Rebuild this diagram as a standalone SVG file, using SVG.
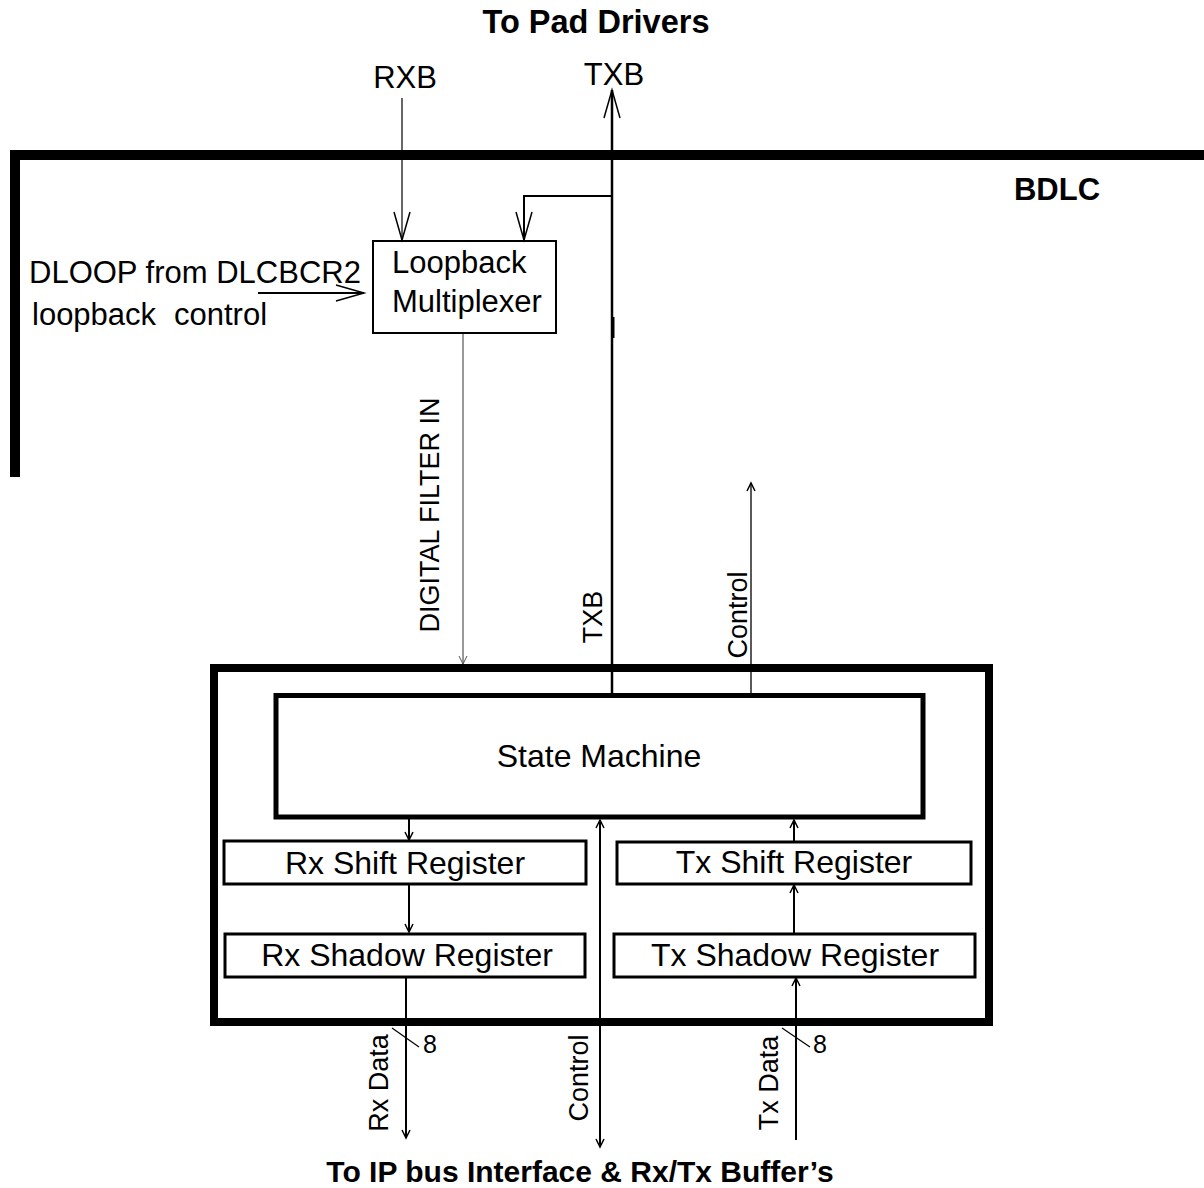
<svg xmlns="http://www.w3.org/2000/svg" width="1204" height="1188" viewBox="0 0 1204 1188">
<style>
  .t { font-family: "Liberation Sans", Arial, sans-serif; font-size: 32px; fill: #000; }
  .t31 { font-family: "Liberation Sans", Arial, sans-serif; font-size: 31px; fill: #000; }
  .b { font-family: "Liberation Sans", Arial, sans-serif; font-size: 30px; font-weight: bold; fill: #000; }
  .b33 { font-family: "Liberation Sans", Arial, sans-serif; font-size: 32.5px; font-weight: bold; fill: #000; }
  .b31 { font-family: "Liberation Sans", Arial, sans-serif; font-size: 31px; font-weight: bold; fill: #000; }
  .r { font-family: "Liberation Sans", Arial, sans-serif; font-size: 27px; fill: #000; }
  .n { font-family: "Liberation Sans", Arial, sans-serif; font-size: 25px; fill: #000; }
  .box { fill: #fff; stroke: #000; }
  .w { fill: none; stroke: #000; }
</style>
<defs>
  <marker id="big" markerUnits="userSpaceOnUse" viewBox="-30 -10 32 20" refX="0" refY="0" markerWidth="32" markerHeight="20" orient="auto" overflow="visible">
    <path d="M-28,-8 L0,0 L-28,8" fill="none" stroke="#000" stroke-width="1.5"/>
  </marker>
  <marker id="sm" markerUnits="userSpaceOnUse" viewBox="-10 -6 12 12" refX="0" refY="0" markerWidth="12" markerHeight="12" orient="auto" overflow="visible">
    <path d="M-8,-4 L0,0 L-8,4" fill="none" stroke="#000" stroke-width="1.5"/>
  </marker>
  <marker id="smg" markerUnits="userSpaceOnUse" viewBox="-10 -6 12 12" refX="0" refY="0" markerWidth="12" markerHeight="12" orient="auto" overflow="visible">
    <path d="M-8,-4 L0,0 L-8,4" fill="none" stroke="#555" stroke-width="1"/>
  </marker>
  <marker id="sms" markerUnits="userSpaceOnUse" viewBox="-10 -6 12 12" refX="0" refY="0" markerWidth="12" markerHeight="12" orient="auto-start-reverse" overflow="visible">
    <path d="M-8,-4 L0,0 L-8,4" fill="none" stroke="#000" stroke-width="1.5"/>
  </marker>
</defs>
<rect width="1204" height="1188" fill="#fff"/>

<g id="bdlc-boundary">
  <path d="M15,477 V155 H1204" class="w" stroke-width="10"/>
  <text class="b31" x="1057" y="200" text-anchor="middle">BDLC</text>
</g>

<g id="titles">
  <text class="b33" x="596" y="33" text-anchor="middle">To Pad Drivers</text>
  <text class="b" x="580" y="1182" text-anchor="middle">To IP bus Interface &amp; Rx/Tx Buffer’s</text>
</g>

<g id="outer-box">
  <rect x="214" y="668" width="775" height="354" class="w" stroke-width="8"/>
</g>

<g id="loopback-mux">
  <rect x="373" y="241" width="183" height="92" class="box" stroke-width="2"/>
  <text class="t31" x="392" y="273">Loopback</text>
  <text class="t31" x="392" y="312">Multiplexer</text>
</g>

<g id="state-machine">
  <rect x="276" y="695.5" width="647" height="121.5" class="box" stroke-width="5"/>
  <text class="t" x="599" y="767" text-anchor="middle">State Machine</text>
</g>

<g id="rx-shift">
  <rect x="224" y="841" width="362" height="43" class="box" stroke-width="3"/>
  <text class="t" x="405" y="874" text-anchor="middle">Rx Shift Register</text>
</g>

<g id="rx-shadow">
  <rect x="225" y="934" width="360" height="43" class="box" stroke-width="3"/>
  <text class="t" x="407" y="966" text-anchor="middle">Rx Shadow Register</text>
</g>

<g id="tx-shift">
  <rect x="617" y="842" width="354" height="42" class="box" stroke-width="3"/>
  <text class="t" x="794" y="873" text-anchor="middle">Tx Shift Register</text>
</g>

<g id="tx-shadow">
  <rect x="614" y="934" width="361" height="43" class="box" stroke-width="3"/>
  <text class="t" x="795" y="966" text-anchor="middle">Tx Shadow Register</text>
</g>

<g id="connectors">
  <line x1="402" y1="98" x2="402" y2="240" class="w" stroke-width="1.2" marker-end="url(#big)"/>
  <line x1="612" y1="696" x2="612" y2="90" class="w" stroke-width="2.5" marker-end="url(#big)"/>
  <line x1="613" y1="317" x2="613" y2="338" class="w" stroke-width="3"/>
  <path d="M612,196 H524 V240" class="w" stroke-width="2" marker-end="url(#big)"/>
  <line x1="258" y1="293" x2="364" y2="293" class="w" stroke-width="2" marker-end="url(#big)"/>
  <line x1="463" y1="334" x2="463" y2="664" fill="none" stroke="#333" stroke-width="1" marker-end="url(#smg)"/>
  <line x1="751" y1="694" x2="751" y2="483" class="w" stroke-width="1.3" marker-end="url(#sm)"/>
  <line x1="409" y1="819" x2="409" y2="840" class="w" stroke-width="2" marker-end="url(#sm)"/>
  <line x1="409" y1="885" x2="409" y2="932" class="w" stroke-width="2" marker-end="url(#sm)"/>
  <line x1="406" y1="978" x2="406" y2="1138" class="w" stroke-width="2" marker-end="url(#sm)"/>
  <line x1="600" y1="820" x2="600" y2="1147" class="w" stroke-width="2" marker-start="url(#sms)" marker-end="url(#sms)"/>
  <line x1="794" y1="933" x2="794" y2="885" class="w" stroke-width="2" marker-end="url(#sm)"/>
  <line x1="794" y1="841" x2="794" y2="820" class="w" stroke-width="2" marker-end="url(#sm)"/>
  <line x1="796" y1="1140" x2="796" y2="978" class="w" stroke-width="2" marker-end="url(#sm)"/>
  <line x1="392" y1="1028" x2="419" y2="1047" class="w" stroke-width="1.2"/>
  <line x1="782" y1="1028" x2="810" y2="1047" class="w" stroke-width="1.2"/>
</g>

<g id="labels">
  <text class="t31" x="405" y="88" text-anchor="middle">RXB</text>
  <text class="t31" x="614" y="85" text-anchor="middle">TXB</text>
  <text class="t31" x="29" y="283">DLOOP from DLCBCR2</text>
  <text class="t31" x="32" y="325">loopback</text>
  <text class="t31" x="174" y="325">control</text>
  <text class="r" transform="translate(439,515) rotate(-90)" text-anchor="middle">DIGITAL FILTER IN</text>
  <text class="r" transform="translate(602,617) rotate(-90)" text-anchor="middle">TXB</text>
  <text class="r" transform="translate(747,615) rotate(-90)" text-anchor="middle">Control</text>
  <text class="n" x="423" y="1053">8</text>
  <text class="n" x="813" y="1053">8</text>
  <text class="r" transform="translate(388,1083) rotate(-90)" text-anchor="middle">Rx Data</text>
  <text class="r" transform="translate(588,1078) rotate(-90)" text-anchor="middle">Control</text>
  <text class="r" transform="translate(778,1083) rotate(-90)" text-anchor="middle">Tx Data</text>
</g>
</svg>
